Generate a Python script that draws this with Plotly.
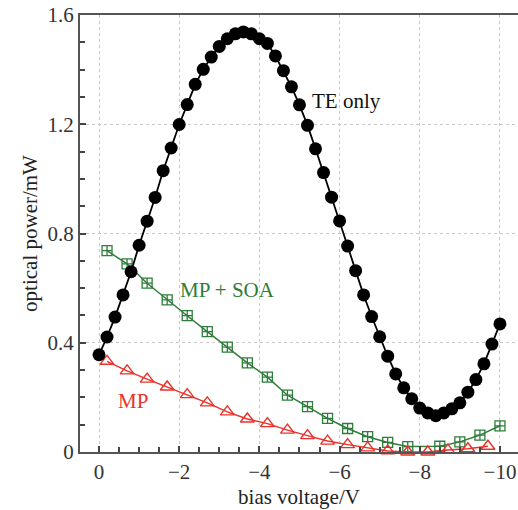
import numpy as np
import plotly.graph_objects as go

# Bias voltage sweep (V) for the TE-only measurement, 0.2 V steps
te_v = [round(-0.2 * i, 1) for i in range(51)]
te_p = [0.356, 0.421, 0.494, 0.575, 0.660, 0.757, 0.845, 0.932, 1.030, 1.113,
        1.199, 1.272, 1.346, 1.401, 1.446, 1.485, 1.513, 1.531, 1.538, 1.531,
        1.513, 1.496, 1.450, 1.396, 1.337, 1.271, 1.196, 1.110, 1.023, 0.933,
        0.846, 0.754, 0.664, 0.575, 0.496, 0.422, 0.351, 0.286, 0.235, 0.195,
        0.161, 0.143, 0.133, 0.143, 0.158, 0.180, 0.219, 0.265, 0.323, 0.395,
        0.469]

# MP + SOA
soa_v = [-0.2, -0.7, -1.2, -1.7, -2.2, -2.7, -3.2, -3.7, -4.2, -4.7,
         -5.2, -5.7, -6.2, -6.7, -7.2, -7.7, -8.5, -9.0, -9.5, -10.0]
soa_p = [0.737, 0.689, 0.618, 0.557, 0.499, 0.441, 0.384, 0.326, 0.274, 0.208,
         0.166, 0.123, 0.086, 0.056, 0.035, 0.020, 0.021, 0.037, 0.062, 0.096]

# MP only
mp_v = [-0.2, -0.7, -1.2, -1.7, -2.2, -2.7, -3.2, -3.7, -4.2, -4.7,
        -5.2, -5.7, -6.2, -6.7, -7.2, -7.7, -8.2, -8.7, -9.2, -9.7]
mp_p = [0.332, 0.297, 0.267, 0.238, 0.210, 0.180, 0.147, 0.121, 0.104, 0.080,
        0.060, 0.040, 0.027, 0.015, 0.004, 0.000, 0.000, 0.007, 0.012, 0.021]

x_ticks = [0, -2, -4, -6, -8, -10]
x_labels = ["0", "\u22122", "\u22124", "\u22126", "\u22128", "\u221210"]
y_ticks = [0, 0.4, 0.8, 1.2, 1.6]
y_labels = ["0", "0.4", "0.8", "1.2", "1.6"]

BLACK = "#000000"
GREEN = "#2e7d3a"
RED = "#e8322b"
FONT = "'Liberation Serif', 'Times New Roman', 'DejaVu Serif', serif"

fig = go.Figure()

fig.add_trace(go.Scatter(
    x=soa_v, y=soa_p, mode="lines+markers", cliponaxis=False,
    line=dict(color=GREEN, width=1.5),
    marker=dict(symbol="square-cross-open", size=10, color=GREEN,
                line=dict(width=1.3, color=GREEN)),
))
fig.add_trace(go.Scatter(
    x=mp_v, y=mp_p, mode="lines+markers", cliponaxis=False,
    line=dict(color=RED, width=1.5),
    marker=dict(symbol="triangle-up-open", size=12, color=RED,
                line=dict(width=1.4, color=RED)),
))
fig.add_trace(go.Scatter(
    x=te_v, y=te_p, mode="lines+markers", cliponaxis=False,
    line=dict(color=BLACK, width=1.8),
    marker=dict(symbol="circle", size=13, color=BLACK),
))

fig.add_annotation(x=-6.18, y=1.284, text="TE only", showarrow=False,
                   font=dict(family=FONT, size=21, color="#111111"))
fig.add_annotation(x=-3.2, y=0.594, text="MP + SOA", showarrow=False,
                   font=dict(family=FONT, size=21, color=GREEN))
fig.add_annotation(x=-0.86, y=0.188, text="MP", showarrow=False,
                   font=dict(family=FONT, size=21, color=RED))

axis_common = dict(
    showline=True, linecolor="#555555", linewidth=2,
    showgrid=True, gridcolor="#c8c8c8", griddash="dot", gridwidth=1,
    zeroline=False, ticks="inside", tickcolor="#444444", ticklen=6, tickwidth=1.5,
    tickfont=dict(family=FONT, size=21, color="#333333"),
)

fig.update_xaxes(
    **axis_common,
    range=[0.474, -10.45], tickvals=x_ticks, ticktext=x_labels,
    mirror=True,
    minor=dict(dtick=0.5, ticks="inside", ticklen=5, tickcolor="#444444",
               tickwidth=1.5, showgrid=False),
    title=dict(text="bias voltage/V", standoff=6,
               font=dict(family=FONT, size=21, color="#222222")),
)
fig.update_yaxes(
    **axis_common,
    range=[0, 1.6], tickvals=y_ticks, ticktext=y_labels,
    minor=dict(dtick=0.1, ticks="inside", ticklen=5, tickcolor="#444444",
               tickwidth=1.5, showgrid=False),
    title=dict(text="optical power/mW", standoff=4,
               font=dict(family=FONT, size=21, color="#222222")),
)

fig.update_layout(
    width=518, height=510,
    margin=dict(l=80, r=0, t=15, b=58),
    paper_bgcolor="white", plot_bgcolor="white",
    showlegend=False,
)

fig.write_html("out.html")
